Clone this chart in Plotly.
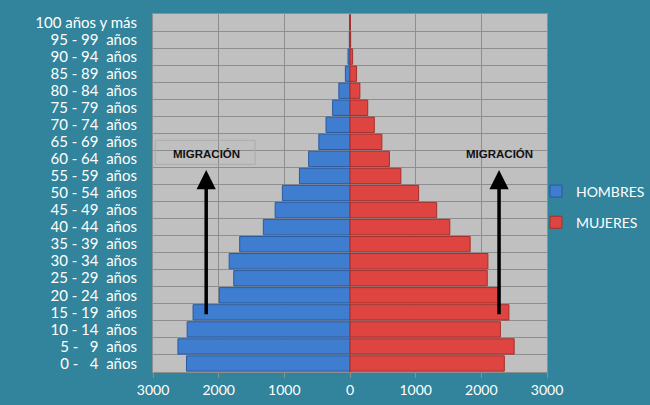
import plotly.graph_objects as go

NB = "\u00a0"
categorias = [
    "0 -" + NB * 3 + "4" + NB * 2 + "años",
    "5 -" + NB * 3 + "9" + NB * 2 + "años",
    "10 - 14" + NB * 2 + "años",
    "15 - 19" + NB * 2 + "años",
    "20 - 24" + NB * 2 + "años",
    "25 - 29" + NB * 2 + "años",
    "30 - 34" + NB * 2 + "años",
    "35 - 39" + NB * 2 + "años",
    "40 - 44" + NB * 2 + "años",
    "45 - 49" + NB * 2 + "años",
    "50 - 54" + NB * 2 + "años",
    "55 - 59" + NB * 2 + "años",
    "60 - 64" + NB * 2 + "años",
    "65 - 69" + NB * 2 + "años",
    "70 - 74" + NB * 2 + "años",
    "75 - 79" + NB * 2 + "años",
    "80 - 84" + NB * 2 + "años",
    "85 - 89" + NB * 2 + "años",
    "90 - 94" + NB * 2 + "años",
    "95 - 99" + NB * 2 + "años",
    "100 años y más",
]
hombres = [2490, 2620, 2480, 2390, 1990, 1770, 1840, 1680, 1320, 1140,
           1030, 770, 630, 475, 365, 265, 170, 70, 30, 10, 5]
mujeres = [2350, 2500, 2290, 2420, 2250, 2090, 2100, 1830, 1520, 1320,
           1045, 775, 600, 485, 370, 270, 150, 100, 40, 10, 5]
tick_vals = [-3000, -2000, -1000, 0, 1000, 2000, 3000]
tick_text = ["3000", "2000", "1000", "0", "1000", "2000", "3000"]

FONT = "Lato"
fig = go.Figure()
fig.add_trace(go.Bar(
    y=categorias, x=[-v for v in hombres], orientation="h", name="HOMBRES",
    marker=dict(color="#3E7DD0", line=dict(color="#2A5A9E", width=1)),
    legendgroup="h",
))
fig.add_trace(go.Bar(
    y=categorias, x=mujeres, orientation="h", name="MUJERES",
    marker=dict(color="#DE4541", line=dict(color="#A52E2B", width=1)),
    legendgroup="m",
))

for xc in (-2190, 2270):
    fig.add_annotation(
        x=xc, y=11.35, ax=xc, ay=2.8, xref="x", yref="y", axref="x", ayref="y",
        showarrow=True, arrowhead=2, arrowsize=1.1, arrowwidth=3.5,
        arrowcolor="black", text="",
    )

# faint text-box border around left label
fig.add_shape(type="rect", x0=-2965, x1=-1445, y0=11.68, y1=13.09,
              xref="x", yref="y", line=dict(color="#ABABAB", width=1))

lab_font = dict(family="Liberation Sans", size=11.5, color="#111111")
fig.add_annotation(x=-2190, y=12.26, xref="x", yref="y", text="<b>MIGRACIÓN</b>",
                   showarrow=False, font=lab_font)
fig.add_annotation(x=2280, y=12.26, xref="x", yref="y", text="<b>MIGRACIÓN</b>",
                   showarrow=False, font=lab_font)

fig.update_layout(
    width=650, height=405,
    margin=dict(l=153, r=103, t=14, b=33, autoexpand=False),
    paper_bgcolor="#31849B", plot_bgcolor="#C0C0C0",
    barmode="overlay", bargap=0.1,
    font=dict(family=FONT, color="white", size=14),
    legend=dict(x=0.972, y=0.461, xanchor="left", yanchor="middle",
                font=dict(family=FONT, size=14, color="white"),
                tracegroupgap=10, traceorder="grouped",
                bgcolor="rgba(0,0,0,0)", itemwidth=30),
    xaxis=dict(range=[-3000, 3000], tickvals=tick_vals, ticktext=tick_text,
               showgrid=True, gridcolor="#8E8E8E", gridwidth=1,
               zeroline=True, zerolinecolor="#7E7A9A", zerolinewidth=1.5,
               showline=True, linecolor="#8E8E8E", mirror=True,
               ticks="outside", ticklen=5, tickcolor="#8E8E8E", automargin=False,
               tickfont=dict(family=FONT, size=14, color="white"), fixedrange=True),
    yaxis=dict(type="category", categoryorder="array", categoryarray=categorias,
               tickmode="array", tickvals=categorias, ticktext=categorias,
               tickson="boundaries", showgrid=True, gridcolor="#8E8E8E", gridwidth=1,
               showline=True, linecolor="#8E8E8E", mirror=True, ticks="",
               ticklabelstandoff=12, automargin=False,
               tickfont=dict(family=FONT, size=15, color="white"), fixedrange=True),
    showlegend=True,
)
fig.write_html("out.html")
